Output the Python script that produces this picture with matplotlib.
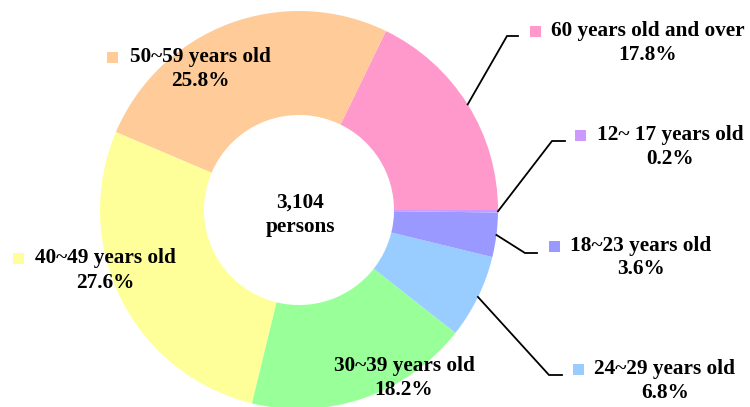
import numpy as np
import matplotlib
matplotlib.use("Agg")
import matplotlib.pyplot as plt
from matplotlib.patches import Rectangle

# ---- data ----
categories = ["60 years old and over", "50~59 years old", "40~49 years old",
              "30~39 years old", "24~29 years old", "18~23 years old",
              "12~ 17 years old"]
shares = [17.8, 25.8, 27.6, 18.2, 6.8, 3.6, 0.2]
colors = ["#FF99CC", "#FFCC99", "#FFFF99", "#99FF99", "#99CCFF", "#9999FF", "#CC99FF"]
total_label = "3,104\npersons"

W, H = 750, 407
fig = plt.figure(figsize=(W / 100, H / 100), dpi=100)
ax = fig.add_axes([0, 0, 1, 1])

def Y(y):
    return H - y

cx, cy, R, r_in = 299, Y(210), 199, 95
ax.pie(shares, colors=colors, startangle=0, counterclock=True, radius=R,
       center=(cx, cy), wedgeprops=dict(width=R - r_in, edgecolor="none"))
ax.set_xlim(0, W)
ax.set_ylim(0, H)
ax.set_aspect("equal")
ax.axis("off")

font = dict(family=["Liberation Serif", "DejaVu Serif"], fontweight="bold", fontsize=15.3)

ax.text(cx + 1, Y(215), total_label, ha="center", va="center", linespacing=1.3, **font)

# label layout: (text center x, line1 y, line2 y, marker left x) in pixels
layout = {
    0: (648, 31, 55, 530),
    1: (200, 57, 81, 107),
    2: (105, 258, 283, 13),
    3: (404, 366, 390, 311),
    4: (665, 369, 393, 573),
    5: (641, 246, 269, 549),
    6: (670, 135, 159, 575),
}
# leader lines: (elbow x, elbow y, end x) for outside labels
leaders = {
    0: (507, 36, 518),
    6: (552, 141, 565),
    5: (525, 253, 537),
    4: (549, 375, 562),
}

cum = np.cumsum([0] + shares)
for i, (cat, val) in enumerate(zip(categories, shares)):
    tx, y1, y2, mx = layout[i]
    ax.text(tx, Y(y1), cat, ha="center", va="center", **font)
    ax.text(tx, Y(y2), f"{val:.1f}%", ha="center", va="center", **font)
    ax.add_patch(Rectangle((mx, Y(y1) - 5.5), 11, 11, facecolor=colors[i],
                           edgecolor="none"))
    if i in leaders:
        mid = np.deg2rad((cum[i] + cum[i + 1]) / 2 * 3.6)
        sx, sy = cx + R * np.cos(mid), cy + R * np.sin(mid)
        ex, ey, endx = leaders[i]
        ax.plot([sx, ex, endx], [sy, Y(ey), Y(ey)], color="black", lw=1.3,
                solid_joinstyle="miter")

fig.savefig("out.png", dpi=100)
